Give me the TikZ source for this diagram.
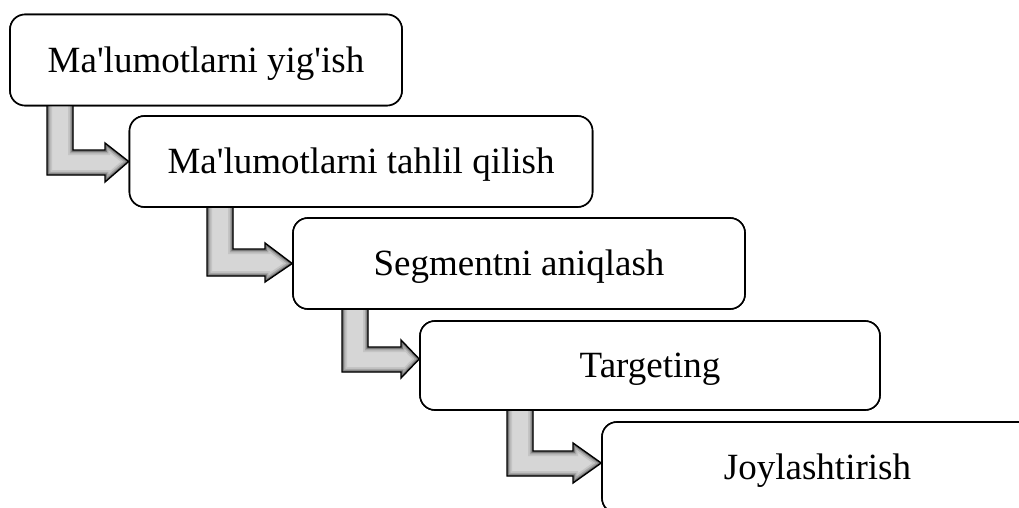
\documentclass[tikz,border=0pt]{standalone}
\usepackage{fontspec}
\setmainfont{Liberation Serif}[Ligatures=TeXOff]
\usetikzlibrary{calc}
\tikzset{
  stage/.style={draw=black, line width=1.6pt, rounded corners=15pt, fill=white,
    inner sep=0pt, text height=24.4pt, text depth=0pt,
    font=\fontsize{37}{44}\selectfont},
  arrowedge/.style={draw=black, line width=1.4pt, line join=miter},
}
% #1 left x, #2 top y, #3 bottom y, #4 shaft top y, #5 head start x,
% #6 head top y, #7 head bottom y, #8 tip coordinate
\newcommand\bentarrow[8]{%
  \def\bentP{(#1,#2) -- (#1,#3) -- (#5,#3) -- (#5,#7) -- (#8) -- (#5,#6) -- (#5,#4) -- ({#1+26},#4) -- ({#1+26},#2) -- cycle}%
  \begin{scope}
    \clip \bentP;
    \fill[fill={rgb,255:red,214;green,214;blue,214}] \bentP;
    \draw[line width=10pt, draw={rgb,255:red,196;green,196;blue,196}] \bentP;
    \draw[line width=6.5pt, draw={rgb,255:red,165;green,165;blue,165}] \bentP;
    \draw[line width=3.5pt, draw={rgb,255:red,120;green,120;blue,120}] \bentP;
  \end{scope}
  \draw[arrowedge] \bentP;
}
\begin{document}
\begin{tikzpicture}[x=1pt, y=-1pt]
  \useasboundingbox (0,0) rectangle (1019,508);
  \clip (0,0) rectangle (1019,508);
  \fill[white] (0,0) rectangle (1019,508);

  \node[stage, minimum width=392pt, minimum height=91pt] (b1) at (206,60) {Ma'lumotlarni yig'ish};
  \node[stage, minimum width=463pt, minimum height=91pt] (b2) at (361,161.5) {Ma'lumotlarni tahlil qilish};
  \node[stage, minimum width=452pt, minimum height=91pt] (b3) at (519,263.5) {Segmentni aniqlash};
  \node[stage, minimum width=460pt, minimum height=89pt] (b4) at (650,365.5) {Targeting};
  \node[stage, minimum width=431pt, minimum height=91pt] (b5) at (817.5,467.5) {Joylashtirish};

  \bentarrow{47}{100}{175}{150}{105}{143}{182}{b2.west}
  \bentarrow{207}{200}{276}{249}{265}{243}{282}{b3.west}
  \bentarrow{342}{302}{372}{347}{401}{340}{378}{$(b4.west)+(0,-6.5)$}
  \bentarrow{507}{403}{476}{451}{573}{443}{483}{$(b5.west)+(0,-4.5)$}

  % redraw boxes on top so arrow tops sit under them
  \node[stage, minimum width=392pt, minimum height=91pt] at (b1) {Ma'lumotlarni yig'ish};
  \node[stage, minimum width=463pt, minimum height=91pt] at (b2) {Ma'lumotlarni tahlil qilish};
  \node[stage, minimum width=452pt, minimum height=91pt] at (b3) {Segmentni aniqlash};
  \node[stage, minimum width=460pt, minimum height=89pt] at (b4) {Targeting};
  \node[stage, minimum width=431pt, minimum height=91pt] at (b5) {Joylashtirish};
\end{tikzpicture}
\end{document}
